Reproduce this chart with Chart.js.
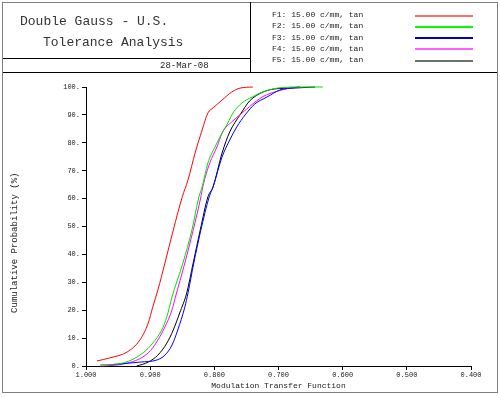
<!DOCTYPE html>
<html>
<head>
<meta charset="utf-8">
<script src="https://cdn.jsdelivr.net/npm/chart.js@4"></script>
<style>
    body { margin: 0; background: #fff; }
    #wrap { position: relative; width: 500px; height: 397px; overflow: hidden; font-family: 'Liberation Mono', 'Courier New', monospace; color: #222; }
    #myChart { position: absolute; left: 0; top: 0; }
    .box { position: absolute; border: 1px solid #808080; box-sizing: border-box; }
    .hl { position: absolute; height: 1px; background: #000; }
    .vl { position: absolute; width: 1px; background: #000; }
    .txt { position: absolute; white-space: pre; }
    .key { position: absolute; height: 2px; width: 58px; left: 415px; }
</style>
</head>
<body>
<div id="wrap">
    <canvas id="myChart" width="500" height="397"></canvas>
    <div class="box" style="left:2px;top:2px;width:496px;height:391px;"></div>
    <div class="vl" style="left:250px;top:2px;height:70px;"></div>
    <div class="hl" style="left:3px;top:58px;width:247px;"></div>
    <div class="hl" style="left:3px;top:72px;width:494px;"></div>
    <div class="txt" style="left:20px;top:14px;font-size:13px;line-height:16px;color:#333;">Double Gauss - U.S.</div>
    <div class="txt" style="left:43px;top:35px;font-size:13px;line-height:16px;color:#333;">Tolerance Analysis</div>
    <div class="txt" style="left:160px;top:61px;font-size:9px;line-height:10px;">28-Mar-08</div>
    <div id="legend"></div>
</div>
<script>
Chart.defaults.font = {
    family: 'Liberation Mono, Courier New, monospace',
    size: 7,
};
Chart.defaults.color = '#222';

const fieldNames = ['F1: 15.00 c/mm, tan', 'F2: 15.00 c/mm, tan', 'F3: 15.00 c/mm, tan', 'F4: 15.00 c/mm, tan', 'F5: 15.00 c/mm, tan'];
const fieldColors = ['#ff0000', '#00e000', '#0000ff', '#ff00ff', '#000000'];
const keyColors = ['#ff7070', '#00ff00', '#0000c0', '#ff60ff', '#707070'];

const f1Mtf = [0.983, 0.963, 0.936, 0.916, 0.903, 0.896, 0.888, 0.877, 0.864, 0.850, 0.841, 0.830, 0.819, 0.810, 0.802, 0.788, 0.773, 0.760, 0.740];
const f1Prob = [1.8, 2.9, 5.0, 9.3, 15.4, 21.1, 27.2, 36.9, 48.7, 60.6, 66.7, 76.3, 84.6, 90.7, 92.5, 95.3, 98.2, 99.6, 100];

const f2Mtf = [0.978, 0.942, 0.911, 0.896, 0.882, 0.874, 0.866, 0.849, 0.835, 0.824, 0.819, 0.810, 0.799, 0.788, 0.779, 0.771, 0.757, 0.741, 0.729, 0.702, 0.667, 0.631];
const f2Prob = [0.4, 1.1, 4.7, 8.2, 12.9, 17.6, 24.7, 36.9, 48.7, 60.6, 64.2, 72.8, 78.5, 83.5, 87.1, 90.7, 94.3, 96.4, 97.8, 99.6, 100, 100];

const f3Mtf = [0.963, 0.916, 0.889, 0.877, 0.866, 0.857, 0.846, 0.841, 0.832, 0.821, 0.808, 0.802, 0.788, 0.776, 0.765, 0.752, 0.737, 0.718, 0.698, 0.682, 0.667];
const f3Prob = [0.4, 1.4, 2.2, 3.9, 7.5, 12.9, 21.1, 26.2, 36.9, 48.7, 60.6, 64.2, 74.9, 81.0, 85.7, 90.0, 93.9, 96.4, 98.9, 99.6, 100];

const f4Mtf = [0.978, 0.942, 0.903, 0.888, 0.877, 0.866, 0.861, 0.846, 0.833, 0.821, 0.818, 0.807, 0.796, 0.787, 0.773, 0.760, 0.745, 0.724, 0.702, 0.682, 0.667];
const f4Prob = [0, 0.7, 4.7, 9.3, 14.0, 20.1, 24.4, 36.9, 48.7, 60.6, 64.2, 72.8, 78.5, 83.9, 87.5, 90.0, 93.0, 96.6, 98.5, 99.6, 100];

const f5Mtf = [0.921, 0.903, 0.888, 0.874, 0.864, 0.854, 0.843, 0.833, 0.822, 0.810, 0.802, 0.788, 0.776, 0.760, 0.745, 0.724, 0.706, 0.678, 0.643];
const f5Prob = [0, 1.4, 3.9, 8.2, 12.9, 19.0, 26.2, 36.9, 48.7, 60.6, 64.2, 76.3, 83.9, 90.0, 95.0, 98.2, 99.3, 99.6, 100];

const xTicks = [1.0, 0.9, 0.8, 0.7, 0.6, 0.5, 0.4];

function pairs(xs, ys) {
    return xs.map((x, i) => ({ x: x, y: ys[i] }));
}

// legend in the header box
const legendEl = document.getElementById('legend');
fieldNames.forEach((name, i) => {
    const cy = 15 + i * 11.3;
    const t = document.createElement('div');
    t.className = 'txt';
    t.style.cssText = 'left:272px;top:' + (cy - 5) + 'px;font-size:8px;line-height:10px;';
    t.textContent = name;
    legendEl.appendChild(t);
    const k = document.createElement('div');
    k.className = 'key';
    k.style.top = Math.round(cy - 0.5) + 'px';
    k.style.background = keyColors[i];
    legendEl.appendChild(k);
});

const series = [
    pairs(f1Mtf, f1Prob),
    pairs(f2Mtf, f2Prob),
    pairs(f3Mtf, f3Prob),
    pairs(f4Mtf, f4Prob),
    pairs(f5Mtf, f5Prob)
];

const ctx = document.getElementById('myChart');

new Chart(ctx, {
    type: 'line',
    data: {
        datasets: series.map((d, i) => ({
            label: fieldNames[i],
            data: d,
            borderColor: fieldColors[i],
            borderWidth: 1,
            pointRadius: 0,
            cubicInterpolationMode: 'monotone',
            fill: false,
            clip: false
        }))
    },
    options: {
        responsive: false,
        animation: false,
        layout: {
            padding: { left: 0, top: 87, right: 29, bottom: 0 }
        },
        plugins: {
            legend: { display: false },
            tooltip: { enabled: false }
        },
        scales: {
            x: {
                type: 'linear',
                reverse: true,
                min: 0.4,
                max: 1.0,
                afterBuildTicks: (scale) => {
                    scale.ticks = xTicks.map(v => ({ value: v }));
                },
                afterFit: (scale) => { scale.height = 31; },
                ticks: {
                    callback: (v) => Number(v).toFixed(3),
                    padding: 1,
                    maxRotation: 0,
                    autoSkip: false
                },
                grid: {
                    drawOnChartArea: false,
                    tickLength: 4,
                    color: '#000'
                },
                border: { color: '#000' },
                title: {
                    display: true,
                    text: 'Modulation Transfer Function',
                    font: { size: 8 },
                    padding: { top: 0, bottom: 6 }
                }
            },
            y: {
                min: 0,
                max: 100,
                afterFit: (scale) => { scale.width = 86; },
                ticks: {
                    stepSize: 10,
                    callback: (v) => v + '.',
                    padding: 2
                },
                grid: {
                    drawOnChartArea: false,
                    tickLength: 4,
                    color: '#000'
                },
                border: { color: '#000' },
                title: {
                    display: true,
                    // trailing blanks push the centred text down, as in the original
                    text: 'Cumulative Probability (%)      ',
                    font: { size: 9 },
                    padding: { top: 9, bottom: 0 }
                }
            }
        }
    }
});
</script>
</body>
</html>
